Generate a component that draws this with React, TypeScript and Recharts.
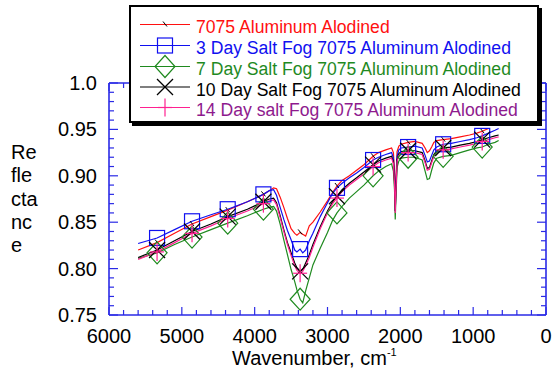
import React from "react"
import { LineChart, Line, XAxis, YAxis } from "recharts"

// wavenumbers (cm-1)
const WAVE = [
  5600, 5340, 5100, 4860, 4600, 4370, 4100, 3880, 3800, 3740, 3700, 3650, 3600, 3550, 3500, 3450, 3420, 3376, 3340,
  3300, 3250, 3200, 3100, 3000, 2930, 2870, 2800, 2700, 2600, 2500, 2374, 2300, 2200, 2120, 2095, 2080, 2070, 2060,
  2045, 2020, 1990, 1893, 1800, 1700, 1660, 1630, 1600, 1570, 1540, 1500, 1412, 1300, 1178, 1050, 950, 876, 790, 700,
  650,
]

const BASE = [
  0.82, 0.828, 0.838, 0.848, 0.856, 0.863, 0.872, 0.88, 0.884, 0.887, 0.886, 0.877, 0.866, 0.854, 0.843, 0.838, 0.836,
  0.839, 0.837, 0.835, 0.846, 0.85, 0.861, 0.873, 0.882, 0.889, 0.895, 0.9, 0.906, 0.912, 0.921, 0.925, 0.928, 0.93,
  0.925, 0.905, 0.866, 0.895, 0.926, 0.932, 0.934, 0.936, 0.937, 0.935, 0.93, 0.925, 0.927, 0.931, 0.936, 0.938, 0.939,
  0.94, 0.942, 0.944, 0.946, 0.948, 0.951, null, null,
]
const DAY3 = [
  0.827, 0.833, 0.842, 0.851, 0.858, 0.864, 0.872, 0.88, 0.884, 0.885, 0.879, 0.866, 0.853, 0.841, 0.831, 0.82, 0.818,
  0.821, 0.817, 0.82, 0.83, 0.838, 0.856, 0.871, 0.881, 0.887, 0.892, 0.898, 0.903, 0.909, 0.917, 0.92, 0.923, 0.925,
  0.919, 0.898, 0.862, 0.89, 0.921, 0.928, 0.93, 0.931, 0.932, 0.93, 0.922, 0.915, 0.916, 0.922, 0.928, 0.931, 0.934,
  0.935, 0.937, 0.939, 0.941, 0.943, 0.946, 0.949, 0.951,
]
const DAY7 = [
  0.811, 0.817, 0.826, 0.834, 0.842, 0.849, 0.857, 0.864, 0.866, 0.867, 0.862, 0.848, 0.831, 0.815, 0.799, 0.786, 0.777,
  0.767, 0.763, 0.776, 0.79, 0.804, 0.822, 0.839, 0.852, 0.86, 0.867, 0.876, 0.883, 0.89, 0.9, 0.905, 0.91, 0.913,
  0.905, 0.885, 0.853, 0.878, 0.909, 0.916, 0.919, 0.92, 0.92, 0.917, 0.905, 0.896, 0.897, 0.906, 0.914, 0.919, 0.921,
  0.922, 0.925, 0.928, 0.93, 0.931, 0.934, 0.936, 0.938,
]
const DAY10 = [
  0.812, 0.82, 0.83, 0.84, 0.848, 0.856, 0.864, 0.872, 0.875, 0.876, 0.871, 0.857, 0.842, 0.828, 0.817, 0.806, 0.801,
  0.797, 0.799, 0.806, 0.815, 0.826, 0.845, 0.862, 0.872, 0.878, 0.885, 0.892, 0.898, 0.904, 0.912, 0.916, 0.919, 0.921,
  0.915, 0.894, 0.862, 0.886, 0.917, 0.924, 0.926, 0.927, 0.927, 0.925, 0.916, 0.908, 0.909, 0.916, 0.923, 0.927, 0.93,
  0.931, 0.933, 0.935, 0.937, 0.939, 0.941, 0.943, 0.944,
]
const DAY14 = [
  0.81, 0.818, 0.828, 0.838, 0.846, 0.854, 0.862, 0.87, 0.873, 0.874, 0.869, 0.855, 0.84, 0.826, 0.814, 0.803, 0.798,
  0.795, 0.797, 0.803, 0.812, 0.823, 0.843, 0.86, 0.87, 0.876, 0.883, 0.89, 0.896, 0.902, 0.91, 0.914, 0.917, 0.919,
  0.913, 0.892, 0.86, 0.884, 0.915, 0.922, 0.924, 0.925, 0.925, 0.923, 0.914, 0.906, 0.907, 0.914, 0.921, 0.925, 0.928,
  0.929, 0.931, 0.933, 0.935, 0.937, 0.939, 0.941, 0.942,
]

// wavenumbers where the symbols sit
const MARKERS = [5340, 4860, 4370, 3880, 3376, 2870, 2374, 1893, 1412, 876]

const Y_LABELS = ["0.75", "0.80", "0.85", "0.90", "0.95", "1.0"]

const FONT = '"Liberation Sans", Arial, Helvetica, sans-serif'
const FRAME = "#2a2ae6"

const xTicks = Array.from({ length: 31 }, (_, i) => i * 200)
const yTicks = Array.from({ length: 26 }, (_, i) => Math.round((0.75 + i * 0.01) * 100) / 100)

const series = [
  { key: "base", name: "7075 Aluminum Alodined", color: "#ff1010", text: "#ff1010", mark: "tick", values: BASE },
  { key: "d3", name: "3 Day Salt Fog 7075 Aluminum Alodined", color: "#1010f0", text: "#1010f0", mark: "square", values: DAY3 },
  { key: "d7", name: "7 Day Salt Fog 7075 Aluminum Alodined", color: "#1f8a1f", text: "#1f8a1f", mark: "diamond", values: DAY7 },
  { key: "d10", name: "10 Day Salt Fog 7075 Aluminum Alodined", color: "#000000", text: "#000000", mark: "x", values: DAY10 },
  { key: "d14", name: "14 Day salt Fog 7075 Aluminum Alodined", color: "#ff2090", text: "#8e1a8e", mark: "plus", values: DAY14 },
]

const data = WAVE.map((w, i) => {
  const row: any = { w }
  series.forEach((s) => (row[s.key] = s.values[i]))
  return row
})

const Marker = ({ kind, cx, cy, color }: any) => {
  switch (kind) {
    case "square":
      return <rect x={cx - 7.5} y={cy - 7.5} width={15} height={15} fill="none" stroke={color} strokeWidth={1.2} />
    case "diamond":
      return <path d={`M${cx},${cy - 11}L${cx + 10},${cy}L${cx},${cy + 11}L${cx - 10},${cy}Z`} fill="none" stroke={color} strokeWidth={1.2} />
    case "x":
      return (
        <g stroke={color} strokeWidth={1.2}>
          <line x1={cx - 8} y1={cy - 8} x2={cx + 8} y2={cy + 8} />
          <line x1={cx - 8} y1={cy + 8} x2={cx + 8} y2={cy - 8} />
        </g>
      )
    case "plus":
      return (
        <g stroke={color} strokeWidth={1.2}>
          <line x1={cx} y1={cy - 9} x2={cx} y2={cy + 9} />
          <line x1={cx - 7} y1={cy} x2={cx + 7} y2={cy} />
        </g>
      )
    default:
      return <line x1={cx - 2} y1={cy - 3} x2={cx + 2} y2={cy + 2} stroke="#000" strokeWidth={1} />
  }
}

const makeDot = (kind: string, color: string) => (props: any) => {
  const { cx, cy, index, value } = props
  if (value == null || cx == null || !MARKERS.includes(WAVE[index])) return <g key={`d-${index}`} />
  return (
    <g key={`d-${index}`}>
      <Marker kind={kind} cx={cx} cy={cy} color={color} />
    </g>
  )
}

const BottomTick = ({ x, y, payload }: any) => {
  const major = payload.value % 1000 === 0
  return (
    <g>
      <line x1={x} y1={y} x2={x} y2={y - (major ? 8 : 5)} stroke={FRAME} strokeWidth={1.2} />
      {major && (
        <text x={x} y={y + 28} textAnchor="middle" fontSize={20} fontFamily={FONT} fill="#000">
          {payload.value}
        </text>
      )}
    </g>
  )
}

const TopTick = ({ x, y, payload }: any) => {
  const major = payload.value % 1000 === 0
  return <line x1={x} y1={y} x2={x} y2={y + (major ? 8 : 5)} stroke={FRAME} strokeWidth={1.2} />
}

const LeftTick = ({ x, y, payload }: any) => {
  const i = Math.round(payload.value * 100) - 75
  const major = i % 5 === 0
  return (
    <g>
      <line x1={x} y1={y} x2={x + (major ? 9 : 5)} y2={y} stroke={FRAME} strokeWidth={1.2} />
      {major && (
        <text x={x - 12} y={y + 7} textAnchor="end" fontSize={20} fontFamily={FONT} fill="#000">
          {Y_LABELS[i / 5]}
        </text>
      )}
    </g>
  )
}

const RightTick = ({ x, y, payload }: any) => {
  const major = (Math.round(payload.value * 100) - 75) % 5 === 0
  return <line x1={x} y1={y} x2={x - (major ? 9 : 5)} y2={y} stroke={FRAME} strokeWidth={1.2} />
}

const Overlay = () => {
  const rows = [24.5, 45.5, 66.5, 87, 107.5]
  return (
    <svg width={553} height={375} style={{ position: "absolute", left: 0, top: 0, pointerEvents: "none" }}>
      {/* legend box with drop shadow */}
      <rect x={132} y={8} width={410} height={118} fill="#000" />
      <rect x={130} y={6} width={408} height={116} fill="#fff" stroke="#000" strokeWidth={2} />
      {series.map((s, i) => (
        <g key={s.key}>
          <line x1={140} y1={rows[i]} x2={190} y2={rows[i]} stroke={s.color} strokeWidth={1.2} />
          <Marker kind={s.mark} cx={165} cy={rows[i]} color={s.color} />
          <text x={196} y={rows[i] + 8.5} fontSize={17.6} fontFamily={FONT} fill={s.text}>
            {s.name}
          </text>
        </g>
      ))}
      {/* y title, broken over lines as in the original */}
      {["Re", "fle", "cta", "nc", "e"].map((t, i) => (
        <text key={t} x={11} y={159 + i * 23.3} fontSize={20} fontFamily={FONT} fill="#000">
          {t}
        </text>
      ))}
      <text x={232} y={365} fontSize={20} fontFamily={FONT} fill="#000">
        Wavenumber, cm
        <tspan fontSize={11} dy={-9}>
          -1
        </tspan>
      </text>
    </svg>
  )
}

export default function App() {
  return (
    <div style={{ position: "absolute", left: 0, top: 0, width: 553, height: 375, background: "#fff" }}>
      <LineChart width={553} height={375} data={data} margin={{ top: 82, right: 6, bottom: 59, left: 108 }}>
        <XAxis
          dataKey="w"
          type="number"
          domain={[0, 6000]}
          allowDataOverflow
          reversed
          ticks={xTicks}
          interval={0}
          height={1}
          tickSize={0}
          tickMargin={0}
          tickLine={false}
          axisLine={{ stroke: FRAME, strokeWidth: 1.6 }}
          tick={<BottomTick />}
        />
        <XAxis
          xAxisId="top"
          orientation="top"
          dataKey="w"
          type="number"
          domain={[0, 6000]}
          allowDataOverflow
          reversed
          ticks={xTicks}
          interval={0}
          height={1}
          tickSize={0}
          tickMargin={0}
          tickLine={false}
          axisLine={{ stroke: FRAME, strokeWidth: 1.6 }}
          tick={<TopTick />}
        />
        <YAxis
          type="number"
          domain={[0.75, 1.0]}
          allowDataOverflow
          ticks={yTicks}
          interval={0}
          width={1}
          tickSize={0}
          tickMargin={0}
          tickLine={false}
          axisLine={{ stroke: FRAME, strokeWidth: 1.6 }}
          tick={<LeftTick />}
        />
        <YAxis
          yAxisId="right"
          orientation="right"
          type="number"
          domain={[0.75, 1.0]}
          allowDataOverflow
          ticks={yTicks}
          interval={0}
          width={1}
          tickSize={0}
          tickMargin={0}
          tickLine={false}
          axisLine={{ stroke: FRAME, strokeWidth: 1.6 }}
          tick={<RightTick />}
        />
        {series.map((s) => (
          <Line
            key={s.key}
            dataKey={s.key}
            name={s.name}
            type="linear"
            stroke={s.color}
            strokeWidth={1.2}
            dot={makeDot(s.mark, s.color)}
            activeDot={false}
            isAnimationActive={false}
          />
        ))}
      </LineChart>
      <Overlay />
    </div>
  )
}
